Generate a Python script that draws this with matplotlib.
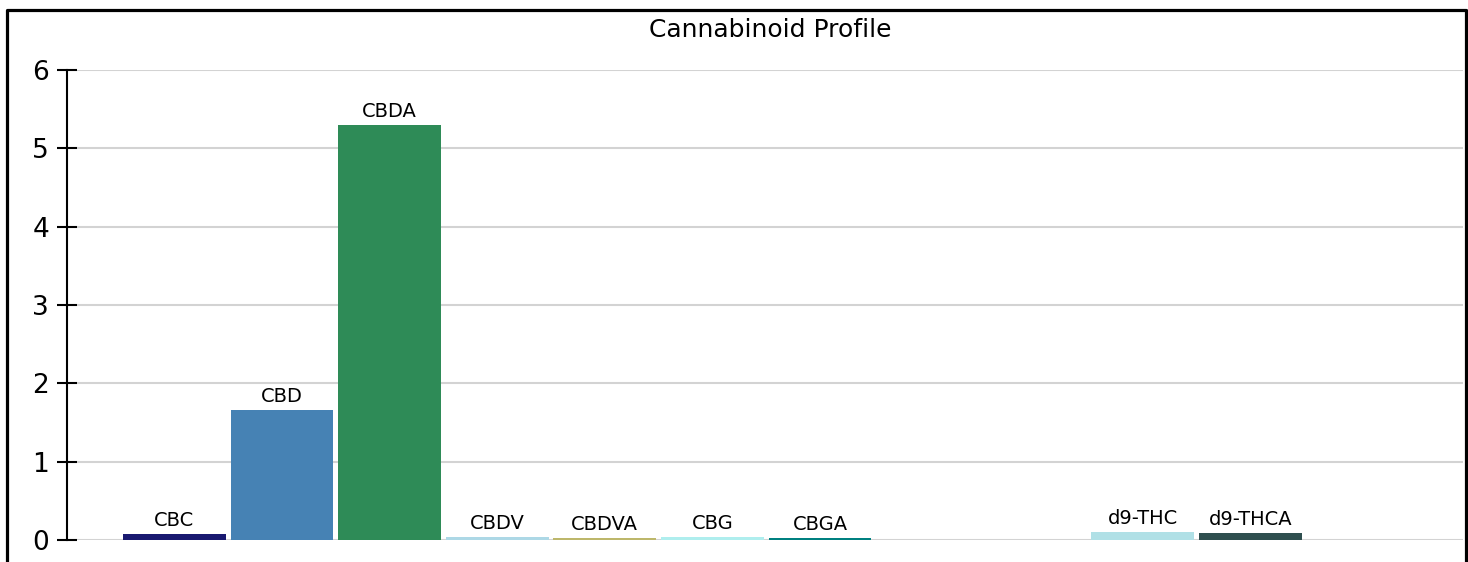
import numpy as np
import matplotlib
matplotlib.use("Agg")
from matplotlib import pyplot as plt
from matplotlib.lines import Line2D

# cannabinoid values (%), empty slots have no reported value
names = ["CBC", "CBD", "CBDA", "CBDV", "CBDVA", "CBG", "CBGA", "", "", "d9-THC", "d9-THCA", ""]
values = [0.08, 1.66, 5.30, 0.04, 0.02, 0.04, 0.02, None, None, 0.10, 0.09, None]
colors = ["midnightblue", "steelblue", "seagreen", "lightblue", "darkkhaki", "paleturquoise",
          "teal", "white", "white", "powderblue", "darkslategray", "white"]
yticks = [0, 1, 2, 3, 4, 5, 6]

plt.rcParams['font.family'] = ['DejaVu Sans']

fig = plt.figure(figsize=(14.68, 5.62), dpi=100)
ax = fig.add_axes([77/1468, 22/562, 1386/1468, 470/562])

x = np.arange(len(names))
for i in range(len(names)):
    if values[i] is None:
        continue
    ax.bar(x[i], values[i], width=0.955, color=colors[i], zorder=3)
    ax.annotate(names[i], (x[i], values[i]), xytext=(0, 3), textcoords="offset points",
                ha="center", va="bottom", fontsize=14, color="black", zorder=4)

ax.set_xlim(-0.906, 11.976)
ax.set_ylim(0, 6)
ax.set_yticks(yticks)
ax.set_xticks([])
ax.grid(axis="y", color="#d3d3d3", linewidth=1.5, zorder=0)
for s in ["top", "right", "bottom"]:
    ax.spines[s].set_visible(False)
ax.spines["left"].set_position(("outward", 7.2))
ax.spines["left"].set_linewidth(1.5)
ax.tick_params(axis="y", direction="inout", length=13.7, width=1.5, labelsize=19, pad=6)
ax.set_title("Cannabinoid Profile", fontsize=18, pad=23.5)

# frame around the whole chart (bottom edge falls off the picture)
fx0, fx1 = 6.5/1468, 1465.5/1468
fy = 1 - 9.5/562
fig.add_artist(Line2D([fx0, fx0, fx1, fx1], [-0.1, fy, fy, -0.1], color="black", linewidth=2.3))

fig.savefig("out.png", dpi=100)
